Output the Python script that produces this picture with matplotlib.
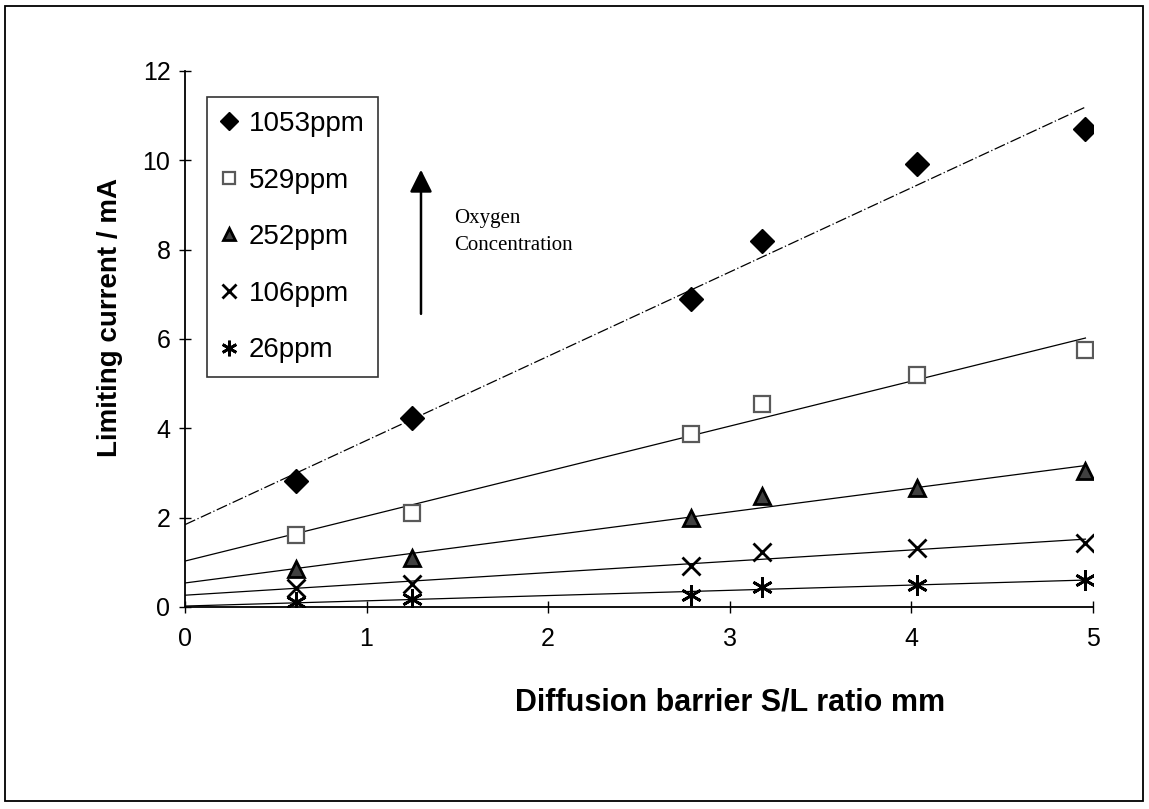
import numpy as np
import matplotlib
matplotlib.use('Agg')
import matplotlib.pyplot as plt
from matplotlib.patches import Rectangle

# S/L ratio of the diffusion barriers (mm)
sl_ratio = [0.61, 1.25, 2.79, 3.18, 4.03, 4.96]

# limiting current (mA) for each oxygen concentration
ppm1053 = [2.82, 4.23, 6.90, 8.19, 9.92, 10.70]
ppm529 = [1.62, 2.11, 3.87, 4.55, 5.20, 5.75]
ppm252 = [0.85, 1.10, 2.00, 2.48, 2.67, 3.04]
ppm106 = [0.43, 0.52, 0.91, 1.22, 1.32, 1.44]
ppm26 = [0.11, 0.17, 0.27, 0.44, 0.50, 0.61]

labels = ['1053ppm', '529ppm', '252ppm', '106ppm', '26ppm']
y_ticks = [0, 2, 4, 6, 8, 10, 12]
x_ticks = [0, 1, 2, 3, 4, 5]

SANS = ['Liberation Sans', 'DejaVu Sans']
SERIF = ['Liberation Serif', 'DejaVu Serif']


def trendline(ax, x, y, style):
    # linear least squares fit, drawn from 0 to the last point like Excel does
    coeffs = np.polyfit(x, y, 1)
    xs = np.array([0, max(x)])
    ax.plot(xs, np.polyval(coeffs, xs), color='black', lw=0.9, ls=style, zorder=2)


def main():
    plt.rcParams['font.family'] = SANS
    fig = plt.figure(figsize=(11.49, 8.09), dpi=100)
    ax = fig.add_axes([0.161, 0.2497, 0.790, 0.6626])

    series = [ppm1053, ppm529, ppm252, ppm106, ppm26]
    markers = [
        dict(marker='D', ms=12, mfc='black', mec='black'),
        dict(marker='s', ms=11, mfc='white', mec='0.35', mew=1.6),
        dict(marker='^', ms=12, mfc='0.25', mec='black', mew=2),
        dict(marker='x', ms=13, mec='black', mew=2),
        dict(marker=(6, 2, 0), ms=15, mec='black', mew=2),
    ]
    styles = [(0, (9, 2, 1, 2)), '-', '-', '-', '-']

    for y, lab, mk, st in zip(series, labels, markers, styles):
        trendline(ax, sl_ratio, y, st)
        ax.plot(sl_ratio, y, ls='none', label=lab, zorder=3, **mk)

    ax.set_xlim(0, 5)
    ax.set_ylim(0, 12)
    ax.set_xticks(x_ticks)
    ax.set_yticks(y_ticks)
    ax.tick_params(direction='inout', length=9, width=1, labelsize=18)
    ax.tick_params(axis='y', pad=6)
    ax.tick_params(axis='x', pad=10)
    for side in ['top', 'right']:
        ax.spines[side].set_visible(False)
    ax.spines['left'].set_linewidth(1.3)
    ax.spines['bottom'].set_linewidth(1.3)

    ax.set_xlabel('Diffusion barrier S/L ratio mm', fontsize=22, fontweight='bold',
                  labelpad=26, x=0.6)
    ax.set_ylabel('Limiting current / mA', fontsize=20, fontweight='bold', labelpad=14,
                  y=0.54)

    leg = ax.legend(loc='upper left', bbox_to_anchor=(0.024, 0.951), fontsize=20,
                    frameon=True, fancybox=False, borderpad=0.5, labelspacing=1.1,
                    handlelength=0.6, handletextpad=0.4, borderaxespad=0,
                    markerscale=0.75)
    leg.get_frame().set_edgecolor('black')
    leg.get_frame().set_linewidth(1.2)

    ax.annotate('', xy=(1.30, 9.85), xytext=(1.30, 6.5),
                arrowprops=dict(arrowstyle='-|>', color='black', lw=1.8, mutation_scale=34))
    ax.text(1.48, 8.4, 'Oxygen\nConcentration', fontsize=15, family=SERIF,
            va='center', ha='left', linespacing=1.6)

    # outer frame of the figure
    fig.patches.append(Rectangle((0.0044, 0.0099), 0.990, 0.983, transform=fig.transFigure,
                                 fill=False, ec='black', lw=1.3))

    fig.savefig('out.png', dpi=100)


if __name__ == '__main__':
    main()
